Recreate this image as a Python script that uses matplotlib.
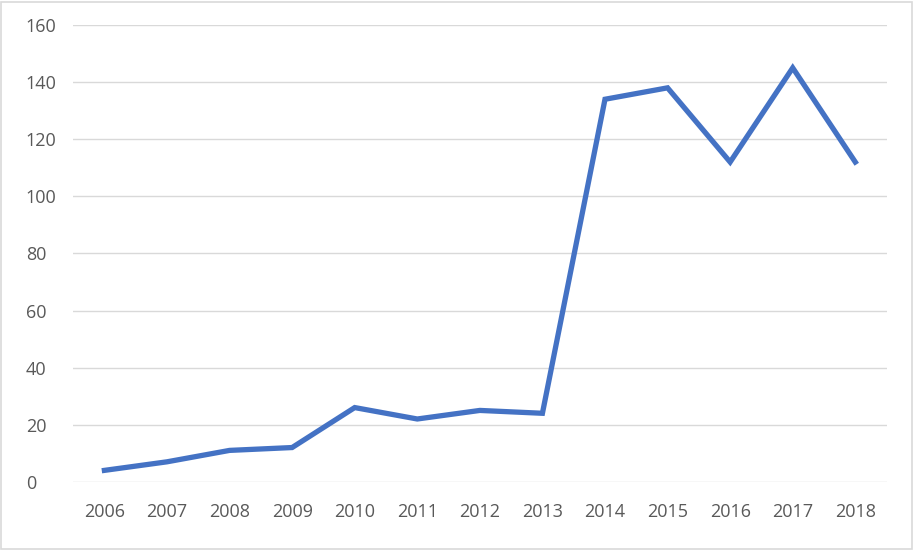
import matplotlib
matplotlib.use('Agg')
import matplotlib.pyplot as plt
from matplotlib.patches import Rectangle

years = ['2006', '2007', '2008', '2009', '2010', '2011', '2012',
         '2013', '2014', '2015', '2016', '2017', '2018']
values = [4, 7, 11, 12, 26, 22, 25, 24, 134, 138, 112, 145, 112]
y_ticks = [0, 20, 40, 60, 80, 100, 120, 140, 160]

plt.rcParams['font.family'] = ['Open Sans', 'DejaVu Sans']

fig = plt.figure(figsize=(9.14, 5.5), dpi=100)
ax = fig.add_axes([0.080, 0.124, 0.890, 0.8305])

x = list(range(len(years)))
ax.plot(x, values, color='#4472C4', linewidth=3.8, solid_joinstyle='miter', zorder=3)

ax.set_xlim(-0.5, len(years) - 0.5)
ax.set_ylim(0, 160)
ax.set_yticks(y_ticks)
ax.set_xticks(x)
ax.set_xticklabels(years)
ax.grid(axis='y', color='#d9d9d9', linewidth=1.0)
ax.set_axisbelow(True)
for s in ax.spines.values():
    s.set_visible(False)

ax.tick_params(axis='both', length=0, labelsize=13, labelcolor='#595959')
ax.tick_params(axis='x', pad=15)
ax.tick_params(axis='y', pad=34)
for lbl in ax.get_yticklabels():
    lbl.set_horizontalalignment('left')

# light chart border
fig.patches.append(Rectangle((0.001, 0.002), 0.997, 0.995, transform=fig.transFigure,
                             fill=False, edgecolor='#d9d9d9', linewidth=1.2))

fig.savefig('out.png', dpi=100)
